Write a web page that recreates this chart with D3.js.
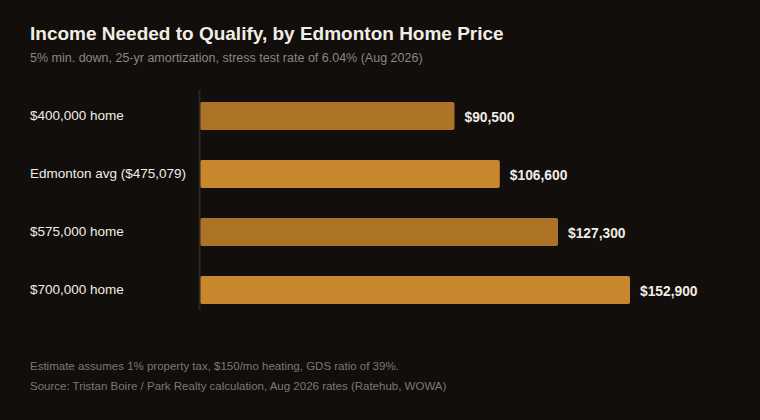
<!DOCTYPE html>
<html>
<head>
<meta charset="utf-8">
<script src="https://cdn.jsdelivr.net/npm/d3@7"></script>
<style>
  html, body { margin: 0; padding: 0; background: #110e0c; }
  svg { display: block; font-family: "Liberation Sans", Arial, Helvetica, sans-serif; }
</style>
</head>
<body>
<svg id="chart"></svg>
<script>
var WIDTH = 760, HEIGHT = 420;

// data
const categories = ["$400,000 home", "Edmonton avg ($475,079)", "$575,000 home", "$700,000 home"];
const incomes = [90500, 106600, 127300, 152900];
const barColors = ["#ad7428", "#c8872d"];

const title = "Income Needed to Qualify, by Edmonton Home Price";
const subtitle = "5% min. down, 25-yr amortization, stress test rate of 6.04% (Aug 2026)";
const notes = [
  "Estimate assumes 1% property tax, $150/mo heating, GDS ratio of 39%.",
  "Source: Tristan Boire / Park Realty calculation, Aug 2026 rates (Ratehub, WOWA)"
];

var svg = d3.select("#chart").attr("width", WIDTH).attr("height", HEIGHT);

svg.append("rect").attr("width", WIDTH).attr("height", HEIGHT).attr("fill", "#110e0c");

var x = d3.scaleLinear().domain([0, d3.max(incomes)]).range([200, 630]);
var y = d3.scaleBand().domain(categories).range([87, 319]).paddingInner(0.52).paddingOuter(0.26);

var rows = categories.map(function(c, i) { return { name: c, value: incomes[i], i: i }; });

// titles
svg.append("text").attr("x", 30).attr("y", 40)
  .attr("font-size", 19).attr("font-weight", "bold").attr("fill", "#f2ede4")
  .text(title);
svg.append("text").attr("x", 30).attr("y", 62)
  .attr("font-size", 12.5).attr("fill", "#8c8680")
  .text(subtitle);

// bars
svg.append("g").attr("class", "bars").selectAll("rect").data(rows)
  .enter().append("rect")
  .attr("x", x(0))
  .attr("y", function(d) { return y(d.name); })
  .attr("width", function(d) { return x(d.value) - x(0); })
  .attr("height", y.bandwidth())
  .attr("rx", 2).attr("ry", 2)
  .attr("fill", function(d) { return barColors[d.i % 2]; });

// axis line
svg.append("line")
  .attr("x1", x(0) - 0.5).attr("x2", x(0) - 0.5)
  .attr("y1", 90).attr("y2", 310)
  .attr("stroke", "#2a2623").attr("stroke-width", 2);

// category labels
svg.append("g").attr("class", "labels").selectAll("text").data(rows)
  .enter().append("text")
  .attr("x", 30)
  .attr("y", function(d) { return y(d.name) + y.bandwidth() / 2 - 0.5; })
  .attr("dy", "0.35em")
  .attr("font-size", 13.5).attr("fill", "#f2ede4")
  .text(function(d) { return d.name; });

// value labels
svg.append("g").attr("class", "values").selectAll("text").data(rows)
  .enter().append("text")
  .attr("x", function(d) { return x(d.value) + 10; })
  .attr("y", function(d) { return y(d.name) + y.bandwidth() / 2 + 1.5; })
  .attr("dy", "0.35em")
  .attr("font-size", 13.8).attr("font-weight", "bold").attr("fill", "#f2ede4")
  .text(function(d) { return "$" + d3.format(",")(d.value); });

// footnotes
svg.append("g").attr("class", "notes").selectAll("text").data(notes)
  .enter().append("text")
  .attr("x", 30)
  .attr("y", function(d, i) { return 370 + i * 20; })
  .attr("font-size", 11.5).attr("fill", "#7d7872")
  .text(function(d) { return d; });
</script>
</body>
</html>
